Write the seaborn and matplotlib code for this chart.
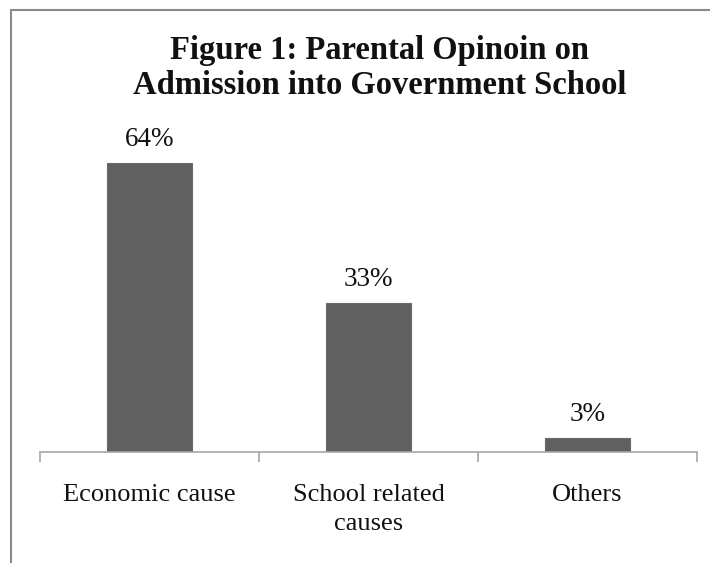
import matplotlib
matplotlib.use("Agg")
import matplotlib.pyplot as plt
import seaborn as sns
import pandas as pd
from matplotlib.lines import Line2D

categories = ["Economic cause", "School related\ncauses", "Others"]
values = [64, 33, 3]
labels = ["64%", "33%", "3%"]
title = "Figure 1: Parental Opinoin on\nAdmission into Government School"

sns.set_theme(style="white")
plt.rcParams['font.family'] = ['Liberation Serif', 'DejaVu Serif']

df = pd.DataFrame({"cat": categories, "val": values})

fig = plt.figure(figsize=(7.1, 5.63), dpi=100)
ax = fig.add_axes([40/710, 111/563, 657/710, 316/563])

sns.barplot(data=df, x="cat", y="val", color="#606060", width=0.385,
            saturation=1, ax=ax, edgecolor="#6a6a6a", linewidth=0.8)

ax.set_xlim(-0.5, 2.5)
ax.set_ylim(0, 70)
ax.set_xlabel("")
ax.set_ylabel("")
ax.set_yticks([])
for s in ["top", "right", "left"]:
    ax.spines[s].set_visible(False)
ax.spines["bottom"].set_color("#a6a6a6")
ax.spines["bottom"].set_linewidth(1.2)

ax.set_xticks([-0.5, 0.5, 1.5, 2.5], minor=True)
ax.tick_params(axis="x", which="minor", length=7, width=1.2, color="#a6a6a6", direction="out", bottom=True)
ax.tick_params(axis="x", which="major", length=0, pad=23, labelsize=19, labelcolor="#111111")
for t in ax.get_xticklabels():
    t.set_linespacing(1.4)

ax.bar_label(ax.containers[0], labels=labels, padding=8, fontsize=19.5, color="#111111")

fig.text(380/710, 1 - 68/563, title, ha="center", va="center", fontsize=23.5,
         fontweight="bold", color="#111111", linespacing=1.15)

fig.add_artist(Line2D([11/710, 1], [1 - 10/563, 1 - 10/563], color="#8a8a8a", lw=1.5, transform=fig.transFigure))
fig.add_artist(Line2D([11/710, 11/710], [0, 1 - 10/563], color="#8a8a8a", lw=1.5, transform=fig.transFigure))

fig.savefig("out.png", dpi=100, facecolor="white")
